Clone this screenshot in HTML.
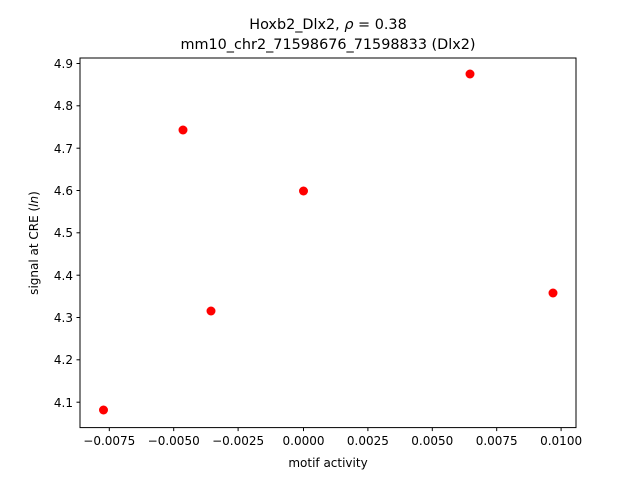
<!DOCTYPE html><html><head><style>body{margin:0;background:#fff}svg text{font-family:"DejaVu Sans","Liberation Sans",sans-serif;fill:#000}</style></head><body>
<svg width="640" height="480" viewBox="0 0 640 480" xmlns="http://www.w3.org/2000/svg">
<rect width="640" height="480" fill="#fff"/>
<text x="328" y="29" font-size="14.4" text-anchor="middle">Hoxb2_Dlx2, <tspan font-style="italic">ρ</tspan> = 0.38</text>
<text x="328" y="49" font-size="14.4" text-anchor="middle">mm10_chr2_71598676_71598833 (Dlx2)</text>
<g fill="#f00">
<circle cx="103.5" cy="410" r="4.5"/><circle cx="183" cy="130" r="4.5"/><circle cx="211" cy="311" r="4.5"/><circle cx="303.5" cy="191" r="4.5"/><circle cx="470" cy="74" r="4.5"/><circle cx="553" cy="293" r="4.5"/>
</g>
<rect x="80" y="58" width="496" height="369.6" fill="none" stroke="#000" stroke-width="1"/>
<g stroke="#000" stroke-width="1">
<line x1="109.3" y1="427.6" x2="109.3" y2="431.1"/><line x1="173.7" y1="427.6" x2="173.7" y2="431.1"/><line x1="238.1" y1="427.6" x2="238.1" y2="431.1"/><line x1="303.5" y1="427.6" x2="303.5" y2="431.1"/><line x1="367.9" y1="427.6" x2="367.9" y2="431.1"/><line x1="432.3" y1="427.6" x2="432.3" y2="431.1"/><line x1="496.7" y1="427.6" x2="496.7" y2="431.1"/><line x1="561.1" y1="427.6" x2="561.1" y2="431.1"/>
<line x1="76.5" y1="63.5" x2="80" y2="63.5"/><line x1="76.5" y1="105.8" x2="80" y2="105.8"/><line x1="76.5" y1="148.2" x2="80" y2="148.2"/><line x1="76.5" y1="190.5" x2="80" y2="190.5"/><line x1="76.5" y1="232.8" x2="80" y2="232.8"/><line x1="76.5" y1="275.2" x2="80" y2="275.2"/><line x1="76.5" y1="317.5" x2="80" y2="317.5"/><line x1="76.5" y1="359.8" x2="80" y2="359.8"/><line x1="76.5" y1="402.2" x2="80" y2="402.2"/>
</g>
<g font-size="12" text-anchor="middle">
<text x="109.3" y="445">−0.0075</text><text x="173.7" y="445">−0.0050</text><text x="238.1" y="445">−0.0025</text><text x="303.5" y="445">0.0000</text><text x="367.9" y="445">0.0025</text><text x="432.3" y="445">0.0050</text><text x="496.7" y="445">0.0075</text><text x="561.1" y="445">0.0100</text>
<text x="328" y="467">motif activity</text>
</g>
<g font-size="12" text-anchor="end">
<text x="73" y="68">4.9</text><text x="73" y="110">4.8</text><text x="73" y="153">4.7</text><text x="73" y="195">4.6</text><text x="73" y="237">4.5</text><text x="73" y="280">4.4</text><text x="73" y="322">4.3</text><text x="73" y="364">4.2</text><text x="73" y="407">4.1</text>
</g>
<text transform="translate(38,243) rotate(-90)" font-size="12" text-anchor="middle">signal at CRE (<tspan font-style="italic">ln</tspan>)</text>
</svg></body></html>
